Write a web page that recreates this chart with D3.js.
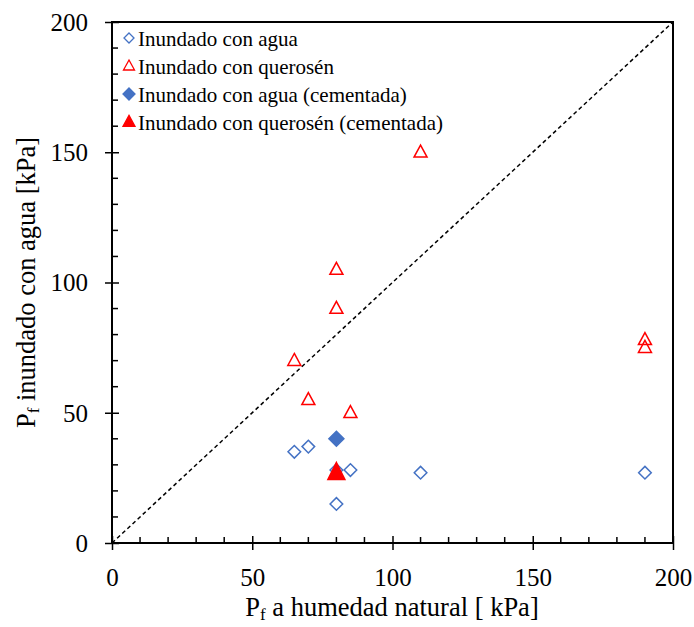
<!DOCTYPE html>
<html>
<head>
<meta charset="utf-8">
<script src="https://cdn.jsdelivr.net/npm/d3@7/dist/d3.min.js"></script>
<style>
  html, body { margin: 0; padding: 0; background: #fff; }
  svg { display: block; }
  svg text { font-family: 'Liberation Serif', 'Times New Roman', serif; }
</style>
</head>
<body>
<svg id="chart" width="694" height="627"></svg>
<script>
// Failure pressure: natural moisture (x) vs flooded (y), kPa
const aguaX = [65, 70, 80, 85, 80, 110, 190];
const aguaY = [35, 37, 28, 28, 15, 27, 27];
const queroX = [110, 80, 80, 65, 70, 85, 190, 190];
const queroY = [150, 105, 90, 70, 55, 50, 78, 75];
const aguaCemX = [80];
const aguaCemY = [40];
const queroCemX = [80];
const queroCemY = [27];
const majorTicks = [0, 50, 100, 150, 200];
const minorTicks = d3.range(0, 201, 10).filter(v => v % 50 !== 0);
const legendLabels = [
  "Inundado con agua",
  "Inundado con querosén",
  "Inundado con agua (cementada)",
  "Inundado con querosén (cementada)"
];

const svg = d3.select("#chart");
const L = 112, R = 673, T = 22, B = 543;
const x = d3.scaleLinear().domain([0, 200]).range([L, R]);
const y = d3.scaleLinear().domain([0, 200]).range([B, T]);
const blue = "#4472C4", red = "#FF0000";

// 1:1 reference line
svg.append("line")
  .attr("x1", x(0)).attr("y1", y(0)).attr("x2", x(200)).attr("y2", y(200))
  .attr("stroke", "#000").attr("stroke-width", 1.5).attr("stroke-dasharray", "4,3");

// Frame
svg.append("rect").attr("x", L).attr("y", T).attr("width", R - L).attr("height", B - T)
  .attr("fill", "none").attr("stroke", "#000").attr("stroke-width", 2);

// Major ticks (crossing) and minor ticks (inside)
const xAxisMajor = d3.axisBottom(x).tickValues(majorTicks).tickSizeInner(7).tickSizeOuter(0).tickFormat(d3.format("d"));
const gx = svg.append("g").attr("transform", `translate(0,${B})`).call(xAxisMajor);
gx.attr("font-family", null);
gx.select(".domain").remove();
gx.selectAll(".tick line").attr("y1", -7).attr("stroke-width", 1.5);
gx.selectAll(".tick text").attr("font-size", 25).attr("dy", null).attr("y", 43).attr("fill", "#000");
svg.append("g").selectAll("line").data(minorTicks).join("line")
  .attr("x1", d => x(d)).attr("x2", d => x(d)).attr("y1", B).attr("y2", B - 6)
  .attr("stroke", "#000").attr("stroke-width", 1.5);

const yAxisMajor = d3.axisLeft(y).tickValues(majorTicks).tickSizeInner(7).tickSizeOuter(0).tickFormat(d3.format("d"));
const gy = svg.append("g").attr("transform", `translate(${L},0)`).call(yAxisMajor);
gy.attr("font-family", null);
gy.select(".domain").remove();
gy.selectAll(".tick line").attr("x1", 7).attr("stroke-width", 1.5);
gy.selectAll(".tick text").attr("font-size", 25).attr("x", -24).attr("dy", "0.33em").attr("fill", "#000");

svg.append("g").selectAll("line").data(minorTicks).join("line")
  .attr("y1", d => y(d)).attr("y2", d => y(d)).attr("x1", L).attr("x2", L + 6)
  .attr("stroke", "#000").attr("stroke-width", 1.5);

// Axis titles
const xt = svg.append("text").attr("x", 392).attr("y", 616).attr("text-anchor", "middle")
  .attr("font-size", 26.5);
xt.append("tspan").text("P");
xt.append("tspan").attr("font-size", 17).attr("dy", 4).text("f");
xt.append("tspan").attr("dy", -4).text(" a humedad natural [ kPa]");

const yt = svg.append("text").attr("transform", `translate(35,${(T + B) / 2}) rotate(-90)`)
  .attr("text-anchor", "middle").attr("font-size", 26.5);
yt.append("tspan").text("P");
yt.append("tspan").attr("font-size", 17).attr("dy", 4).text("f");
yt.append("tspan").attr("dy", -4).text(" inundado con agua [kPa]");

// Marker shapes
const diamond = s => `M0,${-s}L${s},0L0,${s}L${-s},0Z`;
const tri = (w, h) => `M0,${-h * 0.6}L${w / 2},${h * 0.4}L${-w / 2},${h * 0.4}Z`;

function plot(xs, ys, path, fill, stroke) {
  svg.append("g").selectAll("path").data(xs.map((v, i) => [v, ys[i]])).join("path")
    .attr("transform", d => `translate(${x(d[0])},${y(d[1])})`)
    .attr("d", path).attr("fill", fill).attr("stroke", stroke).attr("stroke-width", 1.5);
}
plot(aguaX, aguaY, diamond(6.3), "none", blue);
plot(queroX, queroY, tri(13, 12), "none", red);
plot(aguaCemX, aguaCemY, diamond(7.5), blue, blue);
plot(queroCemX, queroCemY, tri(17, 17), red, red);

// Legend
const legendMarks = [
  { d: diamond(5), fill: "none", stroke: blue },
  { d: tri(11, 10), fill: "none", stroke: red },
  { d: diamond(6), fill: blue, stroke: blue },
  { d: tri(12, 11), fill: red, stroke: red }
];
const lg = svg.append("g");
legendLabels.forEach((lab, i) => {
  const cy = 38 + i * 28;
  lg.append("path").attr("transform", `translate(129,${cy})`).attr("d", legendMarks[i].d)
    .attr("fill", legendMarks[i].fill).attr("stroke", legendMarks[i].stroke).attr("stroke-width", 1.3);
  lg.append("text").attr("x", 138).attr("y", cy + 8).attr("font-size", 21)
    .attr("fill", "#000").text(lab);
});
</script>
</body>
</html>
